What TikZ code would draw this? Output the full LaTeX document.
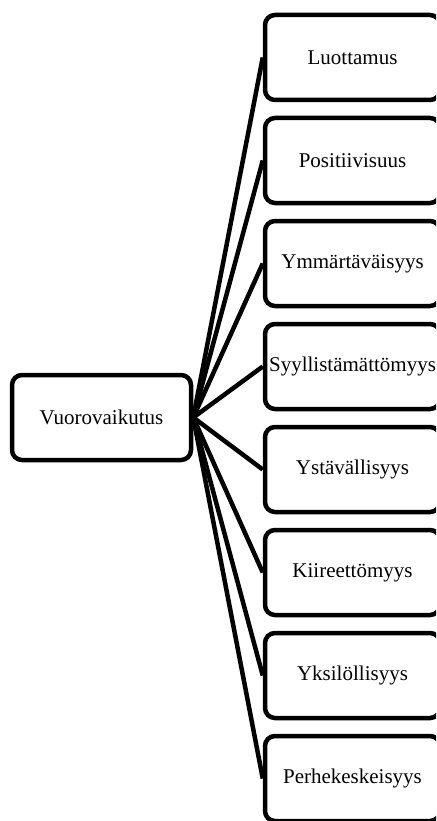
\documentclass[tikz,border=0pt]{standalone}
\usepackage{fontspec}
\setmainfont{Liberation Serif}
\begin{document}
\begin{tikzpicture}[x=1pt,y=-1pt,
  box/.style={draw=black, line width=4.5pt, rounded corners=10pt, fill=white,
    inner sep=0pt, font=\fontsize{21}{25}\selectfont},
  rootbox/.style={box, minimum width=179pt, minimum height=85pt},
  leafbox/.style={box, minimum width=175pt, minimum height=85pt},
  link/.style={draw=black, line width=4.5pt}]
  \useasboundingbox (0,0) rectangle (436,821);
  \clip (0,0) rectangle (436,821);

  \node[rootbox] (root) at (101.5,417.5) {Vuorovaikutus};

  \node[leafbox] (l1) at (352.5,57.5)  {Luottamus};
  \node[leafbox] (l2) at (352.5,160.5) {Positiivisuus};
  \node[leafbox] (l3) at (352.5,263.5) {Ymmärtäväisyys};
  \node[leafbox] (l4) at (352.5,366.5) {Syyllistämättömyys};
  \node[leafbox] (l5) at (352.5,469.5) {Ystävällisyys};
  \node[leafbox] (l6) at (352.5,572.5) {Kiireettömyys};
  \node[leafbox] (l7) at (352.5,675.5) {Yksilöllisyys};
  \node[leafbox] (l8) at (352.5,778.5) {Perhekeskeisyys};

  \foreach \i in {1,...,8}
    \draw[link] (root.east) -- (l\i.west);
\end{tikzpicture}
\end{document}
